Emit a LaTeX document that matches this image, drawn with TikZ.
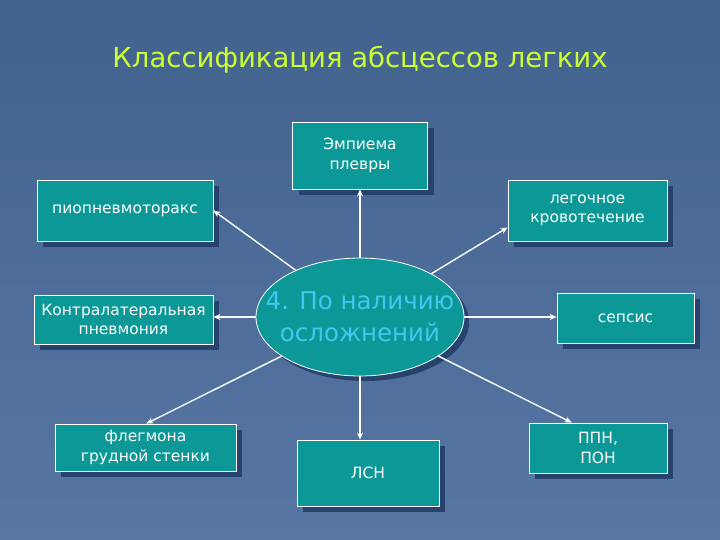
\documentclass[tikz,border=0pt]{standalone}
\usepackage{fontspec}
\setmainfont{DejaVu Sans}
\usetikzlibrary{shapes.geometric,shadows,arrows.meta}
\definecolor{bgtop}{RGB}{66,98,142}
\definecolor{bgbot}{RGB}{88,118,164}
\definecolor{teal}{RGB}{12,152,150}
\definecolor{shadowblue}{RGB}{40,66,110}
\definecolor{titlecol}{RGB}{204,255,51}
\definecolor{elltext}{RGB}{64,200,240}
\tikzset{
  box/.style={rectangle, draw=white, line width=0.8pt, fill=teal, text=white,
    font=\fontsize{15.5}{19.5}\selectfont, align=center, inner sep=2pt,
    drop shadow={shadow xshift=6pt, shadow yshift=-6pt, fill=shadowblue, opacity=1}},
  ellbox/.style={ellipse, draw=white, line width=0.8pt, fill=teal, text=elltext,
    font=\fontsize{24.5}{32}\selectfont, align=center, inner xsep=-24pt, inner ysep=-8pt,
    drop shadow={shadow xshift=5pt, shadow yshift=-5pt, fill=shadowblue, opacity=1}},
  arr/.style={draw=white, line width=1.4pt, -{Stealth[length=7pt,width=6pt]}}
}
\begin{document}
\begin{tikzpicture}[x=1pt,y=-1pt]
\shade[top color=bgtop, bottom color=bgbot] (0,0) rectangle (720,540);
\useasboundingbox (0,0) rectangle (720,540);
\node[text=titlecol, font=\fontsize{27.5}{32}\selectfont] (title) at (360,60) {Классификация абсцессов легких};
\node[box, minimum width=135pt, minimum height=67pt] (emp) at (360,155.5) {Эмпиема\\плевры};
\node[box, minimum width=176pt, minimum height=61pt] (pio) at (125,210.5) {пиопневмоторакс};
\node[box, minimum width=159pt, minimum height=61pt] (leg) at (587.5,210.5) {легочное\\кровотечение};
\node[box, minimum width=179pt, minimum height=49pt] (kon) at (123.5,319.5) {Контралатеральная\\пневмония};
\node[box, minimum width=137pt, minimum height=50pt] (sep) at (625.5,318) {сепсис};
\node[box, minimum width=181pt, minimum height=47pt] (fle) at (145.5,447.5) {флегмона\\грудной стенки};
\node[box, minimum width=142pt, minimum height=66pt] (lsn) at (368,473) {ЛСН};
\node[box, minimum width=138pt, minimum height=50pt] (ppn) at (598,448) {ППН,\\ПОН};
\node[ellbox, minimum width=208pt, minimum height=118pt] (ell) at (360,317) {4. По наличию\\осложнений};
\coordinate (lsntop) at (ell.south |- lsn.north);
\coordinate (kontip) at (ell.west -| kon.east);
\coordinate (septip) at (ell.east -| sep.west);
\draw[arr] (ell.north) -- (emp.south);
\draw[arr] (ell) -- (pio.east);
\draw[arr] (ell) -- (leg.192);
\draw[arr] (ell.west) -- (kontip);
\draw[arr] (ell.east) -- (septip);
\draw[arr] (ell) -- (fle.88);
\draw[arr] (ell.south) -- (lsntop);
\draw[arr] (ell) -- (ppn.136);
\end{tikzpicture}
\end{document}
